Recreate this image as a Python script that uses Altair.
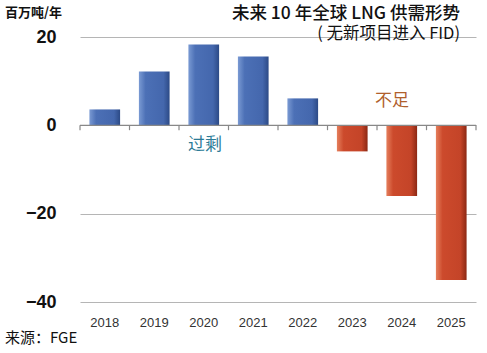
import altair as alt
import pandas as pd

years = ["2018", "2019", "2020", "2021", "2022", "2023", "2024", "2025"]
values = [3.6, 12.2, 18.3, 15.6, 6.1, -5.9, -16.0, -35.0]
y_ticks = [-40, -20, 0, 20]

df = pd.DataFrame({"year": years, "value": values})

W, H = 396, 265
FONT_CJK = "Noto Sans CJK SC"
FONT_LAT = "Liberation Sans"

blue = alt.Gradient(
    gradient="linear", x1=0, x2=1, y1=0, y2=0,
    stops=[alt.GradientStop(color="#7a9ad3", offset=0),
           alt.GradientStop(color="#4c70b6", offset=0.22),
           alt.GradientStop(color="#4467ad", offset=0.8),
           alt.GradientStop(color="#2c4a86", offset=1)])
red = alt.Gradient(
    gradient="linear", x1=0, x2=1, y1=0, y2=0,
    stops=[alt.GradientStop(color="#e57f5c", offset=0),
           alt.GradientStop(color="#cc4a2c", offset=0.22),
           alt.GradientStop(color="#c44428", offset=0.8),
           alt.GradientStop(color="#8c2814", offset=1)])

xscale = alt.Scale(domain=years, paddingInner=0.38, paddingOuter=0.19)
yscale = alt.Scale(domain=[-40, 20], nice=False)

xenc = alt.X("year:N", sort=years, scale=xscale,
             axis=alt.Axis(title=None, labelAngle=0, domain=False, ticks=False,
                           labelFont=FONT_LAT, labelFontSize=13, labelColor="#333333",
                           labelPadding=14))
yenc = alt.Y("value:Q", scale=yscale,
             axis=alt.Axis(title=None, values=y_ticks, domain=False, ticks=False,
                           grid=True, gridColor="#b5b5b5", gridWidth=1.2,
                           labelFont=FONT_LAT, labelFontSize=18, labelFontWeight="bold",
                           labelColor="#111111", labelPadding=24))

base = alt.Chart(df)
pos = base.transform_filter("datum.value >= 0").mark_bar(color=blue).encode(x=xenc, y=yenc, y2=alt.datum(0))
neg = base.transform_filter("datum.value < 0").mark_bar(color=red).encode(x=xenc, y=yenc, y2=alt.datum(0))

zero = alt.Chart(pd.DataFrame({"z": [0]})).mark_rule(color="#888888", strokeWidth=1.3).encode(
    y=alt.Y("z:Q", scale=yscale))

# small ticks at the category boundaries along the zero line
half_gap = 9.4
ticks_left = base.mark_rule(color="#888888", strokeWidth=1.2, xOffset=-half_gap).encode(
    x=alt.X("year:N", sort=years, scale=xscale, bandPosition=0),
    y=alt.datum(0), y2=alt.datum(-1.1))
ticks_right = base.transform_filter("datum.year == '2025'").mark_rule(
    color="#888888", strokeWidth=1.2, xOffset=half_gap).encode(
    x=alt.X("year:N", sort=years, scale=xscale, bandPosition=1),
    y=alt.datum(0), y2=alt.datum(-1.1))

def txt(s, x, y, size, color, font=FONT_CJK, align="left", weight="normal"):
    return alt.Chart(pd.DataFrame({"t": [s]})).mark_text(
        align=align, baseline="middle", fontSize=size, font=font, color=color,
        fontWeight=weight).encode(text="t:N", x=alt.value(x), y=alt.value(y))

annos = [
    txt("百万吨/年", -75, -24, 13, "#111111", weight="bold"),
    txt("未来 10 年全球 LNG 供需形势", 380, -23, 17.5, "#111111", align="right", weight=500),
    txt("( 无新项目进入 FID)", 380, -3, 16.5, "#111111", align="right"),
    txt("过剩", 108, 108, 17, "#2c7b97"),
    txt("不足", 295, 64, 17, "#b0602c"),
    txt("来源：FGE", -75, 36 + H, 15, "#111111"),
]

chart = alt.layer(pos, neg, zero, ticks_left, ticks_right, *annos).properties(
    width=W, height=H,
    autosize=alt.AutoSizeParams(type="none"),
    padding={"left": 80, "top": 37, "right": 11, "bottom": 51},
).configure_view(stroke=None)

chart.save("out.html", embed_options={"renderer": "svg", "actions": False})
